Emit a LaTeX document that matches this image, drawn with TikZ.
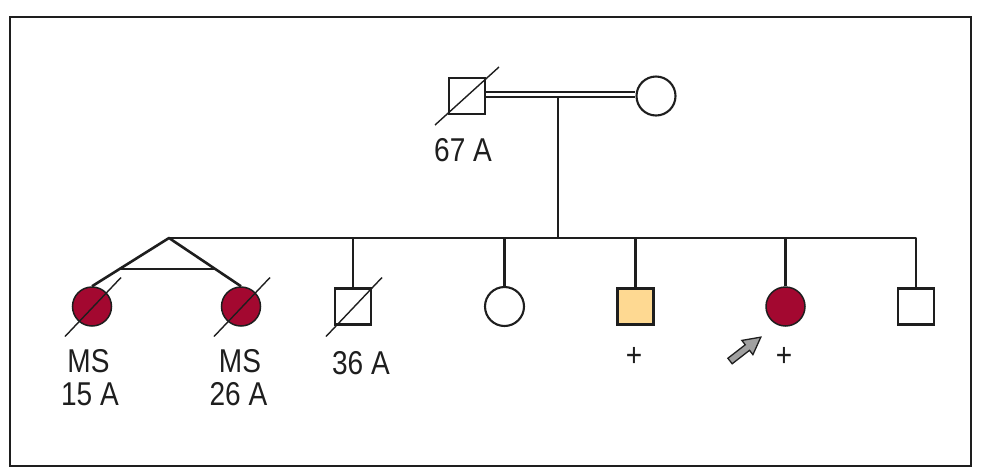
\documentclass[tikz,border=0pt]{standalone}
\usepackage{fontspec}
\setmainfont{Liberation Sans}[FakeStretch=0.85]
\usetikzlibrary{calc}
\definecolor{msred}{RGB}{163,8,48}
\definecolor{carrier}{RGB}{254,217,146}
\definecolor{pointer}{RGB}{160,160,160}
\definecolor{ink}{RGB}{30,30,30}
\begin{document}
\begin{tikzpicture}[x=1pt,y=-1pt,
  lin/.style={line width=2.6pt, draw=ink, line join=round},
  malebox/.style={rectangle, draw=ink, line width=2.5pt, minimum size=36pt, inner sep=0pt, fill=white},
  femalebox/.style={circle, draw=ink, line width=2.1pt, minimum size=39pt, inner sep=0pt, fill=white},
  affected/.style={fill=msred, line width=1.5pt},
  carrierfill/.style={fill=carrier},
  deceased/.style={line width=1.4pt, draw=ink},
  lbl/.style={font=\fontsize{33}{32.7}\selectfont, text=ink, inner sep=0pt, anchor=base}]
\path[use as bounding box] (0,0) rectangle (987,475);
\draw[line width=2.2pt, ink] (10,17) rectangle (971,466);
% parents
\node[malebox] (f) at (467,96) {};
\node[femalebox] (m) at (656,96) {};
\coordinate (mar) at (558,94.5);
\draw[ink, line width=2.3pt, double=white, double distance=2.1pt] (f.east |- mar) -- (m.west |- mar);
\coordinate (desc) at (558,97);
\coordinate (sibL) at (169,238);
\draw[lin] (desc) -- (desc |- sibL);
% children
\node[femalebox, affected] (c1) at (92,306.5) {};
\node[femalebox, affected] (c2) at (241,306.5) {};
\node[malebox] (c3) at (353,306.5) {};
\node[femalebox] (c4) at (504.5,306.5) {};
\node[malebox, carrierfill] (c5) at (635.5,306.5) {};
\node[femalebox, affected] (c6) at (785.5,306.5) {};
\node[malebox] (c7) at (916,306.5) {};
\draw[lin] (c1.north) -- (sibL) -- (c2.north);
\draw[lin] (sibL) -- (c7.north |- sibL) -- (c7.north);
\draw[lin] ($(sibL)!0.646!(c1.north)$) -- ($(sibL)!0.646!(c2.north)$);
\foreach \c in {c3,c4,c5,c6} \draw[lin] (\c.north) -- (\c.north |- sibL);
% deceased slashes
\draw[deceased] ($(f)+(-32,29)$) -- ($(f)+(32,-29)$);
\foreach \c in {c1,c2,c3} \draw[deceased] ($(\c)+(-27,30)$) -- ($(\c)+(29,-29)$);
% labels
\node[lbl] (l0) at (463,161.7) {67 A};
\node[lbl] (l1a) at (88.5,372.3) {MS};
\node[lbl] (l1b) at (90,405) {15 A};
\node[lbl] (l2a) at (240,372.3) {MS};
\node[lbl] (l2b) at (238.5,405) {26 A};
\node[lbl] (l3) at (361,374) {36 A};
\node[lbl] (l5) at (634,366) {+};
\node[lbl] (l6) at (784,366) {+};
% proband pointer
\begin{scope}[shift={(730,361)}, rotate=37.75]
\filldraw[fill=pointer, draw=ink, line width=1.3pt, line join=miter] (0,3.5) -- (22,3.5) -- (22,9) -- (39,0) -- (22,-9) -- (22,-3.5) -- (0,-3.5) -- cycle;
\end{scope}
\end{tikzpicture}
\end{document}
